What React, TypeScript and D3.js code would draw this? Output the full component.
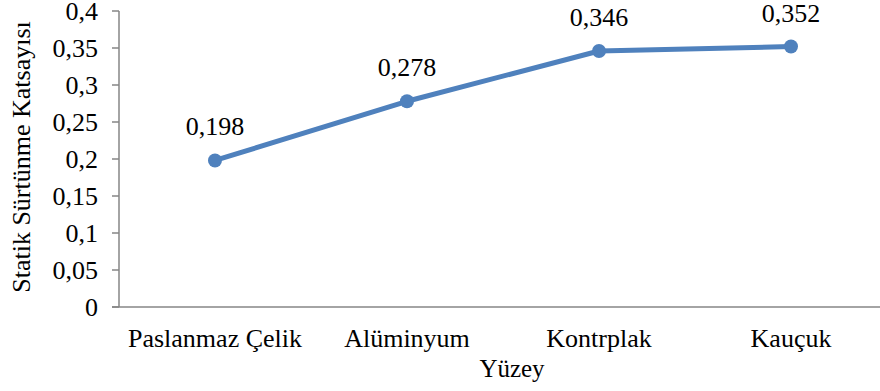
import React from "react";
import * as d3 from "d3";

const categories = ["Paslanmaz Çelik", "Alüminyum", "Kontrplak", "Kauçuk"];
const values = [0.198, 0.278, 0.346, 0.352];
const yTicks = [0, 0.05, 0.1, 0.15, 0.2, 0.25, 0.3, 0.35, 0.4];
const xTitle = "Yüzey";
const yTitle = "Statik Sürtünme Katsayısı";

const W = 880;
const H = 391;
const left = 119;
const bandW = 192;
const top = 11;
const bottom = 307;
const font = "'Liberation Serif', 'Times New Roman', serif";
const fmt = (v: number) => String(v).replace(".", ",");

export default function App() {
  const x = d3
    .scaleBand<string>()
    .domain(categories)
    .range([left, left + bandW * categories.length]);
  const y = d3.scaleLinear().domain([0, 0.4]).range([bottom, top]);
  const cx = (c: string) => (x(c) as number) + x.bandwidth() / 2;
  const line = d3
    .line<number>()
    .x((_, i) => cx(categories[i]))
    .y((d) => y(d));
  const axisColor = "#868686";

  return (
    <svg
      width={W}
      height={H}
      style={{ position: "absolute", left: 0, top: 0, background: "#fff" }}
      fontFamily={font}
    >
      <line x1={left} x2={left} y1={top} y2={bottom} stroke={axisColor} strokeWidth={1.5} />
      <line x1={left - 7} x2={W} y1={bottom} y2={bottom} stroke={axisColor} strokeWidth={1.5} />
      {yTicks.map((t) => (
        <g key={t}>
          <line x1={left - 7} x2={left} y1={y(t)} y2={y(t)} stroke={axisColor} strokeWidth={1.5} />
          <text x={98} y={y(t) + 9} textAnchor="end" fontSize={26} fill="#000">
            {fmt(t)}
          </text>
        </g>
      ))}
      {categories.map((c) => (
        <text key={c} x={cx(c)} y={347} textAnchor="middle" fontSize={26} fill="#000">
          {c}
        </text>
      ))}
      <text x={512} y={377} textAnchor="middle" fontSize={25} fill="#000">
        {xTitle}
      </text>
      <text
        transform={`translate(30, 157) rotate(-90)`}
        textAnchor="middle"
        fontSize={26}
        fill="#000"
      >
        {yTitle}
      </text>
      <path d={line(values) || ""} fill="none" stroke="#4F81BD" strokeWidth={5} strokeLinejoin="round" />
      {values.map((v, i) => (
        <g key={i}>
          <circle cx={cx(categories[i])} cy={y(v)} r={7} fill="#4F81BD" />
          <text x={cx(categories[i])} y={y(v) - 25} textAnchor="middle" fontSize={26} fill="#000">
            {fmt(v)}
          </text>
        </g>
      ))}
    </svg>
  );
}
